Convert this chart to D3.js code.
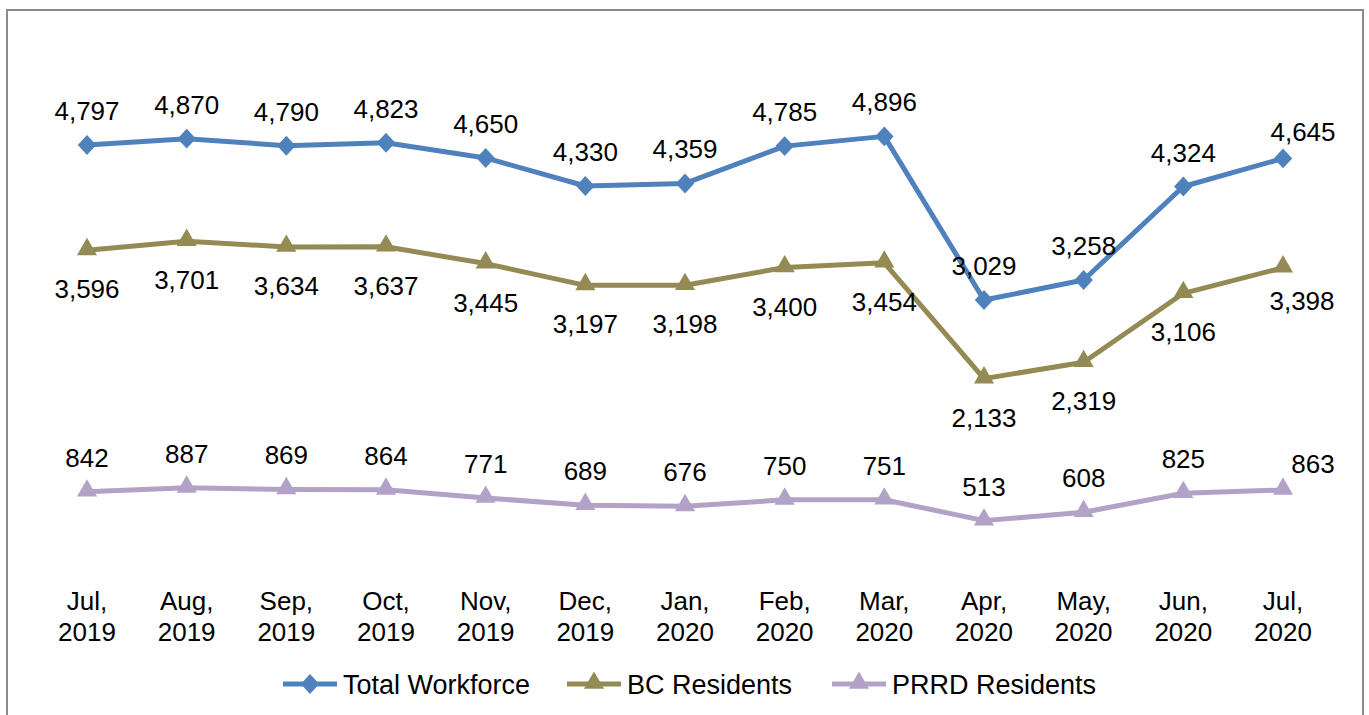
<!DOCTYPE html>
<html>
<head>
<meta charset="utf-8">
<script src="https://cdn.jsdelivr.net/npm/d3@7"></script>
<style>
    body { margin: 0; background: #fff; }
    svg text { font-family: "Liberation Sans", Arial, sans-serif; fill: #000; }
</style>
</head>
<body>
<div id="chart"></div>
<script>
// Monthly workforce counts
const months = ['Jul, 2019', 'Aug, 2019', 'Sep, 2019', 'Oct, 2019', 'Nov, 2019', 'Dec, 2019',
    'Jan, 2020', 'Feb, 2020', 'Mar, 2020', 'Apr, 2020', 'May, 2020', 'Jun, 2020', 'Jul, 2020'];
const totalWorkforce = [4797, 4870, 4790, 4823, 4650, 4330, 4359, 4785, 4896, 3029, 3258, 4324, 4645];
const bcResidents = [3596, 3701, 3634, 3637, 3445, 3197, 3198, 3400, 3454, 2133, 2319, 3106, 3398];
const prrdResidents = [842, 887, 869, 864, 771, 689, 676, 750, 751, 513, 608, 825, 863];
const seriesNames = ['Total Workforce', 'BC Residents', 'PRRD Residents'];

const width = 1369;
const height = 715;

// labelDy: baseline offset from the point; lastShift: the last label was nudged by hand in the original
const series = [
    { name: seriesNames[0], values: totalWorkforce, color: '#4f81bd', marker: 'diamond', labelDy: -25, lastShift: [20, 8] },
    { name: seriesNames[1], values: bcResidents, color: '#948a54', marker: 'triangle', labelDy: 48, lastShift: [19, -6] },
    { name: seriesNames[2], values: prrdResidents, color: '#b3a2c7', marker: 'triangle', labelDy: -25, lastShift: [30, 8] }
];

const svg = d3.select('#chart').append('svg')
    .attr('width', width)
    .attr('height', height);

// Chart frame
svg.append('rect')
    .attr('x', 7)
    .attr('y', 10)
    .attr('width', 1356)
    .attr('height', 712)
    .attr('fill', 'none')
    .attr('stroke', '#8c8c8c')
    .attr('stroke-width', 2);

const x = d3.scalePoint()
    .domain(months)
    .range([87, 1283]);

const y = d3.scaleLinear()
    .domain([0, 6000])
    .range([565.6, 39.6]);

// Excel-style diamond: a rotated square, a little taller than wide
const squareDiamond = {
    draw(context, size) {
        const w = Math.sqrt(size) / 2;
        const h = w * 1.08;
        context.moveTo(0, -h);
        context.lineTo(w, 0);
        context.lineTo(0, h);
        context.lineTo(-w, 0);
        context.closePath();
    }
};

const markerSymbol = {
    diamond: d3.symbol().type(squareDiamond).size(340),
    triangle: d3.symbol().type(d3.symbolTriangle).size(175)
};

const line = d3.line()
    .x(d => x(d.month))
    .y(d => y(d.value));

const last = months.length - 1;

series.forEach(s => {
    const points = s.values.map((v, i) => ({ month: months[i], value: v, index: i }));
    const g = svg.append('g');

    g.append('path')
        .datum(points)
        .attr('d', line)
        .attr('fill', 'none')
        .attr('stroke', s.color)
        .attr('stroke-width', 5)
        .attr('stroke-linejoin', 'round');

    g.selectAll('.marker')
        .data(points)
        .enter().append('path')
        .attr('class', 'marker')
        .attr('d', markerSymbol[s.marker])
        .attr('transform', d => `translate(${x(d.month)},${y(d.value) + (s.marker === 'triangle' ? -1 : 0)})`)
        .attr('fill', s.color);

    g.selectAll('.value-label')
        .data(points)
        .enter().append('text')
        .attr('class', 'value-label')
        .attr('x', d => x(d.month) + (d.index === last ? s.lastShift[0] : 0))
        .attr('y', d => y(d.value) + s.labelDy + (d.index === last ? s.lastShift[1] : 0))
        .attr('text-anchor', 'middle')
        .style('font-size', '26px')
        .text(d => d3.format(',')(d.value));
});

// Category labels in two lines
const xLabels = svg.append('g');
months.forEach(m => {
    const parts = m.split(' ');
    const t = xLabels.append('text')
        .attr('x', x(m))
        .attr('y', 610)
        .attr('text-anchor', 'middle')
        .style('font-size', '26px');
    t.append('tspan').attr('x', x(m)).attr('dy', 0).text(parts[0]);
    t.append('tspan').attr('x', x(m)).attr('dy', 31).text(parts[1]);
});

// Legend
const legendX = [283, 567, 832];
const legend = svg.append('g');
series.forEach((s, i) => {
    const lx = legendX[i];
    legend.append('line')
        .attr('x1', lx).attr('x2', lx + 54)
        .attr('y1', 684).attr('y2', 684)
        .attr('stroke', s.color)
        .attr('stroke-width', 5);
    legend.append('path')
        .attr('d', markerSymbol[s.marker])
        .attr('transform', `translate(${lx + 27},${684 + (s.marker === 'triangle' ? -1 : 0)})`)
        .attr('fill', s.color);
    legend.append('text')
        .attr('x', lx + 60)
        .attr('y', 694)
        .style('font-size', '27px')
        .text(s.name);
});
</script>
</body>
</html>
